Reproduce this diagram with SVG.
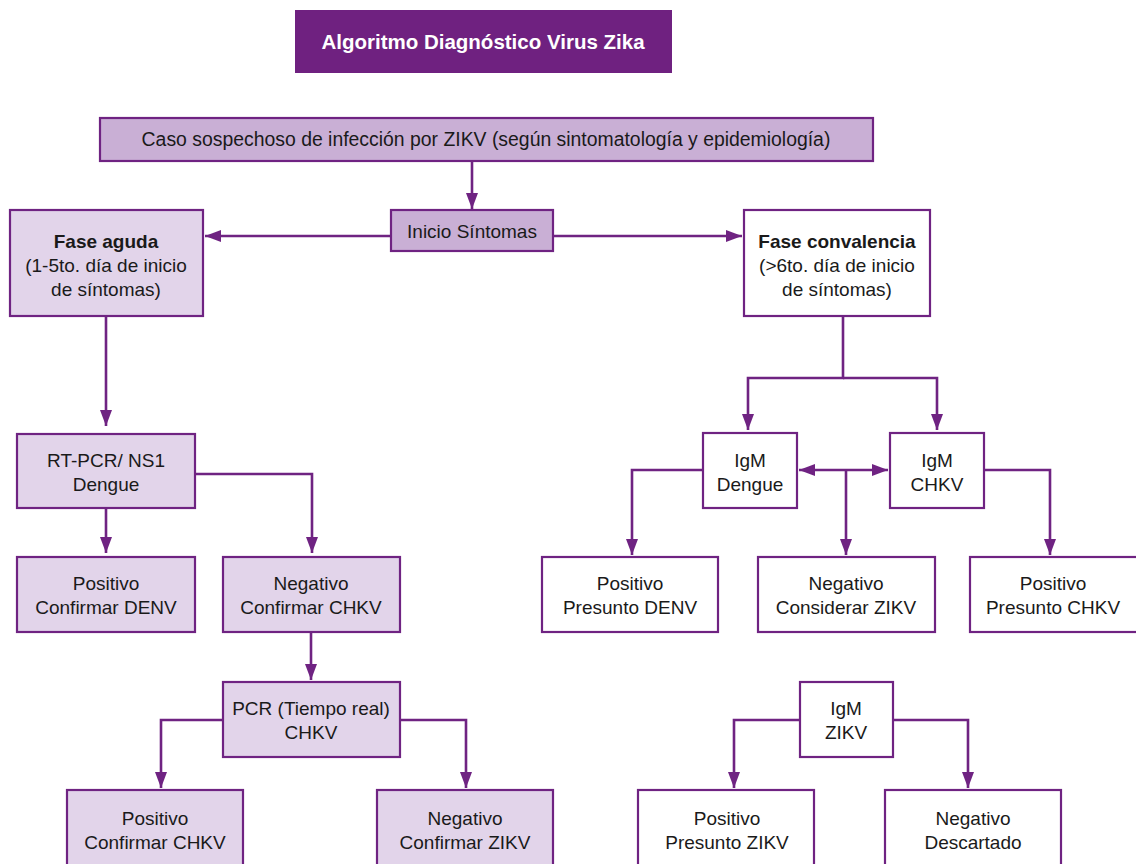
<svg xmlns="http://www.w3.org/2000/svg" width="1136" height="864" viewBox="0 0 1136 864">
<defs>
<marker id="ah" viewBox="0 0 16 12" refX="16" refY="6" markerWidth="16" markerHeight="12" markerUnits="userSpaceOnUse" orient="auto-start-reverse">
<path d="M0,0 L16,6 L0,12 Z" fill="#6f2382"/>
</marker>
<style>
.box{stroke:#6f2382;stroke-width:2.2}
.dark{fill:#c9afd5}
.light{fill:#e2d4ea}
.white{fill:#ffffff}
.t{font-family:"Liberation Sans",Arial,sans-serif;font-size:19px;fill:#1a1a1a;text-anchor:middle}
.b{font-weight:bold}
.con{fill:none;stroke:#6f2382;stroke-width:2.6}
</style>
</defs>
<rect width="1136" height="864" fill="#ffffff"/>

<g id="title">
<rect x="295" y="10" width="377" height="63" fill="#6f2180"/>
<text x="483" y="49" style="font-family:'Liberation Sans',Arial,sans-serif;font-size:20.5px;font-weight:bold;fill:#ffffff;text-anchor:middle">Algoritmo Diagnóstico Virus Zika</text>
</g>

<g id="connectors">
<line class="con" x1="472" y1="161" x2="472" y2="209" marker-end="url(#ah)"/>
<line class="con" x1="391" y1="236" x2="205" y2="236" marker-end="url(#ah)"/>
<line class="con" x1="553" y1="236" x2="742" y2="236" marker-end="url(#ah)"/>
<line class="con" x1="106" y1="316" x2="106" y2="426" marker-end="url(#ah)"/>
<line class="con" x1="106" y1="508" x2="106" y2="553" marker-end="url(#ah)"/>
<polyline class="con" points="195,474 312,474 312,553" marker-end="url(#ah)"/>
<line class="con" x1="311" y1="632" x2="311" y2="680" marker-end="url(#ah)"/>
<polyline class="con" points="223,720 161,720 161,788" marker-end="url(#ah)"/>
<polyline class="con" points="400,720 466,720 466,788" marker-end="url(#ah)"/>
<polyline class="con" points="843,316 843,378 748,378 748,430" marker-end="url(#ah)"/>
<polyline class="con" points="843,378 937,378 937,430" marker-end="url(#ah)"/>
<line class="con" x1="799" y1="470" x2="888" y2="470" marker-start="url(#ah)" marker-end="url(#ah)"/>
<line class="con" x1="846" y1="470" x2="846" y2="555" marker-end="url(#ah)"/>
<polyline class="con" points="703,470 632,470 632,555" marker-end="url(#ah)"/>
<polyline class="con" points="984,470 1050,470 1050,555" marker-end="url(#ah)"/>
<polyline class="con" points="800,720 734,720 734,788" marker-end="url(#ah)"/>
<polyline class="con" points="893,720 968,720 968,788" marker-end="url(#ah)"/>
</g>

<g id="caso">
<rect class="box dark" x="100" y="118" width="773" height="43"/>
<text class="t" x="486" y="146" style="font-size:19.4px">Caso sospechoso de infección por ZIKV (según sintomatología y epidemiología)</text>
</g>
<g id="inicio">
<rect class="box dark" x="391" y="210" width="162" height="41"/>
<text class="t" x="472" y="238">Inicio Síntomas</text>
</g>
<g id="fase-aguda">
<rect class="box light" x="10" y="210" width="193" height="106"/>
<text class="t b" x="106" y="248">Fase aguda</text>
<text class="t" x="106" y="272">(1-5to. día de inicio</text>
<text class="t" x="106" y="296">de síntomas)</text>
</g>
<g id="fase-convalencia">
<rect class="box white" x="744" y="210" width="186" height="106"/>
<text class="t b" x="837" y="248">Fase convalencia</text>
<text class="t" x="837" y="272">(&gt;6to. día de inicio</text>
<text class="t" x="837" y="296">de síntomas)</text>
</g>
<g id="rtpcr">
<rect class="box light" x="17" y="434" width="178" height="74"/>
<text class="t" x="106" y="467">RT-PCR/ NS1</text>
<text class="t" x="106" y="491">Dengue</text>
</g>
<g id="pos-denv">
<rect class="box light" x="17" y="557" width="178" height="75"/>
<text class="t" x="106" y="590">Positivo</text>
<text class="t" x="106" y="614">Confirmar DENV</text>
</g>
<g id="neg-chkv">
<rect class="box light" x="223" y="557" width="177" height="75"/>
<text class="t" x="311" y="590">Negativo</text>
<text class="t" x="311" y="614">Confirmar CHKV</text>
</g>
<g id="pcr">
<rect class="box light" x="223" y="682" width="177" height="75"/>
<text class="t" x="311" y="715">PCR (Tiempo real)</text>
<text class="t" x="311" y="739">CHKV</text>
</g>
<g id="pos-chkv">
<rect class="box light" x="67" y="790" width="176" height="80"/>
<text class="t" x="155" y="825">Positivo</text>
<text class="t" x="155" y="849">Confirmar CHKV</text>
</g>
<g id="neg-zikv">
<rect class="box light" x="377" y="790" width="176" height="80"/>
<text class="t" x="465" y="825">Negativo</text>
<text class="t" x="465" y="849">Confirmar ZIKV</text>
</g>
<g id="igm-dengue">
<rect class="box white" x="703" y="433" width="94" height="75"/>
<text class="t" x="750" y="467">IgM</text>
<text class="t" x="750" y="491">Dengue</text>
</g>
<g id="igm-chkv">
<rect class="box white" x="890" y="433" width="94" height="75"/>
<text class="t" x="937" y="467">IgM</text>
<text class="t" x="937" y="491">CHKV</text>
</g>
<g id="pos-presunto-denv">
<rect class="box white" x="542" y="557" width="176" height="75"/>
<text class="t" x="630" y="590">Positivo</text>
<text class="t" x="630" y="614">Presunto DENV</text>
</g>
<g id="neg-considerar-zikv">
<rect class="box white" x="758" y="557" width="177" height="75"/>
<text class="t" x="846" y="590">Negativo</text>
<text class="t" x="846" y="614">Considerar ZIKV</text>
</g>
<g id="pos-presunto-chkv">
<rect class="box white" x="970" y="557" width="170" height="75"/>
<text class="t" x="1053" y="590">Positivo</text>
<text class="t" x="1053" y="614">Presunto CHKV</text>
</g>
<g id="igm-zikv">
<rect class="box white" x="800" y="682" width="93" height="75"/>
<text class="t" x="846" y="715">IgM</text>
<text class="t" x="846" y="739">ZIKV</text>
</g>
<g id="pos-presunto-zikv">
<rect class="box white" x="638" y="790" width="176" height="80"/>
<text class="t" x="727" y="825">Positivo</text>
<text class="t" x="727" y="849">Presunto ZIKV</text>
</g>
<g id="neg-descartado">
<rect class="box white" x="885" y="790" width="176" height="80"/>
<text class="t" x="973" y="825">Negativo</text>
<text class="t" x="973" y="849">Descartado</text>
</g>
</svg>
